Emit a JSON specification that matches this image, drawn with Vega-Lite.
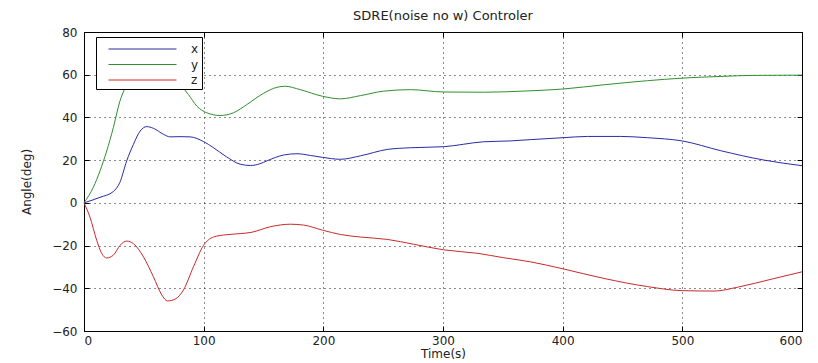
{
  "$schema": "https://vega.github.io/schema/vega-lite/v6.json",
  "width": 718,
  "height": 299,
  "autosize": {"type": "none"},
  "padding": {"left": 84, "top": 32, "right": 16, "bottom": 32},
  "background": "white",
  "title": {"text": "SDRE(noise no w) Controler", "font": "DejaVu Sans", "fontSize": 13, "fontWeight": "normal", "color": "#222", "offset": 3, "anchor": "middle"},
  "config": {
    "view": {"stroke": "black", "strokeWidth": 1},
    "axis": {"labelFont": "DejaVu Sans", "labelFontSize": 12, "labelColor": "#222", "titleFont": "DejaVu Sans", "titleFontSize": 12, "titleFontWeight": "normal", "titleColor": "#222", "domainColor": "black", "tickColor": "black", "gridColor": "black", "gridDash": [1, 4], "gridOpacity": 0.9}
  },
  "data": {"values": [
    {"t": 0, "v": 0, "s": "x"}, {"t": 13.4, "v": 2.6, "s": "x"}, {"t": 24.5, "v": 5.3, "s": "x"}, {"t": 30, "v": 9.6, "s": "x"}, {"t": 35.7, "v": 19.7, "s": "x"}, {"t": 41.3, "v": 27.4, "s": "x"}, {"t": 46.9, "v": 33.6, "s": "x"}, {"t": 52.4, "v": 35.7, "s": "x"}, {"t": 58, "v": 34.9, "s": "x"}, {"t": 66.4, "v": 32.1, "s": "x"}, {"t": 72, "v": 30.9, "s": "x"}, {"t": 80.3, "v": 31, "s": "x"}, {"t": 88.7, "v": 30.9, "s": "x"}, {"t": 99.9, "v": 28.7, "s": "x"}, {"t": 108, "v": 25.9, "s": "x"}, {"t": 119, "v": 21.6, "s": "x"}, {"t": 130.5, "v": 18.1, "s": "x"}, {"t": 139, "v": 17.5, "s": "x"}, {"t": 147, "v": 18.3, "s": "x"}, {"t": 153, "v": 19.7, "s": "x"}, {"t": 166.8, "v": 22.4, "s": "x"}, {"t": 178, "v": 23, "s": "x"}, {"t": 189.2, "v": 22.2, "s": "x"}, {"t": 199.4, "v": 21.3, "s": "x"}, {"t": 214.2, "v": 20.4, "s": "x"}, {"t": 230.9, "v": 22, "s": "x"}, {"t": 253.3, "v": 25, "s": "x"}, {"t": 272.7, "v": 25.8, "s": "x"}, {"t": 300.6, "v": 26.3, "s": "x"}, {"t": 334, "v": 28.6, "s": "x"}, {"t": 356.4, "v": 29, "s": "x"}, {"t": 373, "v": 29.6, "s": "x"}, {"t": 400.3, "v": 30.5, "s": "x"}, {"t": 420.7, "v": 31.1, "s": "x"}, {"t": 448.5, "v": 31.1, "s": "x"}, {"t": 470.8, "v": 30.5, "s": "x"}, {"t": 499.8, "v": 29, "s": "x"}, {"t": 532.2, "v": 24.4, "s": "x"}, {"t": 568.5, "v": 20, "s": "x"}, {"t": 600, "v": 17.4, "s": "x"},
    {"t": 0, "v": 0, "s": "y"}, {"t": 7.8, "v": 7.3, "s": "y"}, {"t": 13.4, "v": 15, "s": "y"}, {"t": 19, "v": 24.3, "s": "y"}, {"t": 24.5, "v": 35.2, "s": "y"}, {"t": 30, "v": 47.6, "s": "y"}, {"t": 34.3, "v": 53.8, "s": "y"}, {"t": 40, "v": 60, "s": "y"}, {"t": 47, "v": 64.5, "s": "y"}, {"t": 55, "v": 66, "s": "y"}, {"t": 64, "v": 64, "s": "y"}, {"t": 75, "v": 58.5, "s": "y"}, {"t": 87.3, "v": 50.7, "s": "y"}, {"t": 94.3, "v": 45.3, "s": "y"}, {"t": 102.6, "v": 42.2, "s": "y"}, {"t": 113.8, "v": 40.9, "s": "y"}, {"t": 125, "v": 42.2, "s": "y"}, {"t": 136, "v": 46, "s": "y"}, {"t": 150, "v": 51.3, "s": "y"}, {"t": 161.2, "v": 54.1, "s": "y"}, {"t": 168.1, "v": 54.6, "s": "y"}, {"t": 180.7, "v": 53, "s": "y"}, {"t": 199.4, "v": 49.9, "s": "y"}, {"t": 214.2, "v": 48.7, "s": "y"}, {"t": 230.9, "v": 50.2, "s": "y"}, {"t": 250.4, "v": 52.3, "s": "y"}, {"t": 272.7, "v": 53, "s": "y"}, {"t": 300.6, "v": 51.9, "s": "y"}, {"t": 334, "v": 51.8, "s": "y"}, {"t": 370, "v": 52.4, "s": "y"}, {"t": 400.3, "v": 53.3, "s": "y"}, {"t": 434.6, "v": 55.3, "s": "y"}, {"t": 470.8, "v": 57.2, "s": "y"}, {"t": 499.8, "v": 58.4, "s": "y"}, {"t": 532.2, "v": 59.2, "s": "y"}, {"t": 560.1, "v": 59.7, "s": "y"}, {"t": 600, "v": 59.8, "s": "y"},
    {"t": 0, "v": 0, "s": "z"}, {"t": 5, "v": -6.7, "s": "z"}, {"t": 10.6, "v": -17.5, "s": "z"}, {"t": 14.8, "v": -23.7, "s": "z"}, {"t": 19, "v": -25.8, "s": "z"}, {"t": 24.5, "v": -24.5, "s": "z"}, {"t": 30.1, "v": -19.9, "s": "z"}, {"t": 35.7, "v": -17.9, "s": "z"}, {"t": 41.3, "v": -19.1, "s": "z"}, {"t": 49.7, "v": -25.3, "s": "z"}, {"t": 58, "v": -34.6, "s": "z"}, {"t": 65, "v": -43.1, "s": "z"}, {"t": 69.7, "v": -45.9, "s": "z"}, {"t": 76.1, "v": -45.1, "s": "z"}, {"t": 83.1, "v": -40.8, "s": "z"}, {"t": 91.5, "v": -29.9, "s": "z"}, {"t": 99.9, "v": -19.9, "s": "z"}, {"t": 108.2, "v": -16, "s": "z"}, {"t": 119.4, "v": -14.9, "s": "z"}, {"t": 130.5, "v": -14.4, "s": "z"}, {"t": 140, "v": -13.8, "s": "z"}, {"t": 155.6, "v": -11.2, "s": "z"}, {"t": 172.4, "v": -10, "s": "z"}, {"t": 183.5, "v": -10.4, "s": "z"}, {"t": 199.4, "v": -12.8, "s": "z"}, {"t": 214.2, "v": -14.8, "s": "z"}, {"t": 230.9, "v": -16, "s": "z"}, {"t": 253.3, "v": -17.1, "s": "z"}, {"t": 275.6, "v": -19.4, "s": "z"}, {"t": 300.6, "v": -22, "s": "z"}, {"t": 328.5, "v": -23.6, "s": "z"}, {"t": 350.8, "v": -25.7, "s": "z"}, {"t": 373, "v": -27.6, "s": "z"}, {"t": 400.3, "v": -30.9, "s": "z"}, {"t": 434.6, "v": -35.4, "s": "z"}, {"t": 470.8, "v": -39.2, "s": "z"}, {"t": 499.8, "v": -41.1, "s": "z"}, {"t": 526.6, "v": -41.3, "s": "z"}, {"t": 546.1, "v": -39.5, "s": "z"}, {"t": 574, "v": -35.8, "s": "z"}, {"t": 600, "v": -32.3, "s": "z"}
  ]},
  "layer": [
    {
      "mark": {"type": "line", "strokeWidth": 1, "interpolate": "monotone"},
      "encoding": {
        "x": {"field": "t", "type": "quantitative", "scale": {"domain": [0, 600], "nice": false}, "axis": {"title": "Time(s)", "values": [0, 100, 200, 300, 400, 500, 600], "grid": true, "tickSize": -5, "labelPadding": 9, "titlePadding": 2}},
        "y": {"field": "v", "type": "quantitative", "scale": {"domain": [-60, 80], "nice": false}, "axis": {"title": "Angle(deg)", "values": [-60, -40, -20, 0, 20, 40, 60, 80], "grid": true, "tickSize": -5, "labelPadding": 12, "titlePadding": 18}},
        "color": {"field": "s", "type": "nominal", "scale": {"domain": ["x", "y", "z"], "range": ["#2a2aa8", "#2f8f2f", "#c82a2a"]},
          "legend": {"title": null, "orient": "none", "legendX": 12, "legendY": 5, "padding": 3, "fillColor": "white", "strokeColor": "black", "symbolType": "M0.06,0H8.06", "symbolSize": 289, "symbolStrokeWidth": 1, "labelOffset": 74, "labelFont": "DejaVu Sans", "labelFontSize": 12, "labelColor": "#222", "rowPadding": 0.5}}
      }
    },
    {
      "mark": {"type": "line", "strokeOpacity": 0},
      "encoding": {
        "x": {"field": "t", "type": "quantitative", "axis": {"orient": "top", "title": null, "labels": false, "domain": false, "grid": false, "tickSize": -5, "values": [0, 100, 200, 300, 400, 500, 600]}},
        "y": {"field": "v", "type": "quantitative", "axis": {"orient": "right", "title": null, "labels": false, "domain": false, "grid": false, "tickSize": -5, "values": [-60, -40, -20, 0, 20, 40, 60, 80]}},
        "detail": {"field": "s"}
      }
    }
  ],
  "resolve": {"axis": {"x": "independent", "y": "independent"}}
}
